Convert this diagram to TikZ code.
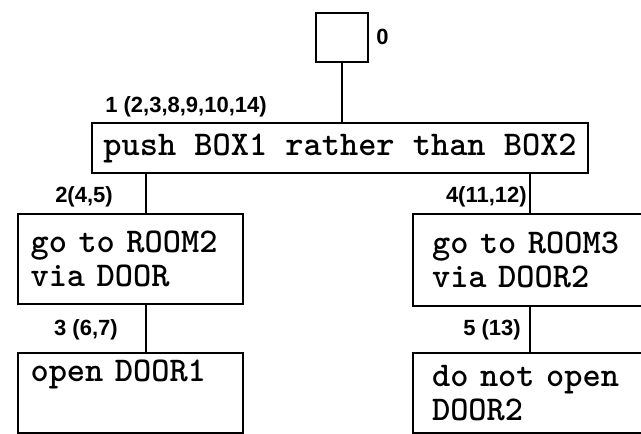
\documentclass[tikz,border=0pt]{standalone}
\usepackage{fontspec}
\setsansfont{Liberation Sans}
\usetikzlibrary{positioning}

\begin{document}
\begin{tikzpicture}[x=0.75pt,y=-0.75pt]
    \tikzset{goalbox/.style = {draw, line width=1.6pt, inner sep=0pt, anchor=north west, font=\ttfamily\bfseries\fontsize{26}{26}\selectfont}}
    \tikzset{numlabel/.style = {inner sep=0pt, font=\sffamily\bfseries\fontsize{16.5}{16.5}\selectfont}}
    \tikzset{link/.style = {-, line width=1.6pt}}

    \useasboundingbox (0,0) rectangle (641,434);
    \clip (0,0) rectangle (641,434);

    \node[goalbox, minimum width=39pt, minimum height=37pt] (G0) at (315,12) {};
    \node[goalbox, minimum width=372pt, minimum height=37.5pt] (G1) at (91,122) {push BOX1 rather than BOX2};
    \node[goalbox, minimum width=168.75pt, minimum height=67.5pt, text width=150pt, align=left] (G2) at (17,213) {go to ROOM2\\via DOOR};
    \node[goalbox, minimum width=168.75pt, minimum height=60pt, text width=150pt, align=left] (G3) at (17,352) {open DOOR1\\\strut};
    \node[goalbox, minimum width=178.5pt, minimum height=69pt, text width=150pt, align=left] (G4) at (412,213) {go to ROOM3\\via DOOR2};
    \node[goalbox, minimum width=178.5pt, minimum height=60pt, text width=150pt, align=left] (G5) at (412,352) {do not open\\DOOR2};

    \node[numlabel, anchor=west] (L0) at (376,37) {0};
    \node[numlabel, anchor=west] (L1) at (105,107) {1 (2,3,8,9,10,14)};
    \node[numlabel, anchor=east] (L2) at (113,197) {2(4,5)};
    \node[numlabel, anchor=east] (L4) at (527,197) {4(11,12)};
    \node[numlabel, anchor=east] (L3) at (118,330) {3 (6,7)};
    \node[numlabel, anchor=east] (L5) at (521,330) {5 (13)};

    \coordinate (jl) at (146,0);
    \coordinate (jr) at (530,0);
    \draw[link] (G0.south) -- (G0.south |- G1.north);
    \draw[link] (G1.south -| jl) -- (G2.north -| jl);
    \draw[link] (G1.south -| jr) -- (G4.north -| jr);
    \draw[link] (G2.south -| jl) -- (G3.north -| jl);
    \draw[link] (G4.south -| jr) -- (G5.north -| jr);
\end{tikzpicture}
\end{document}
